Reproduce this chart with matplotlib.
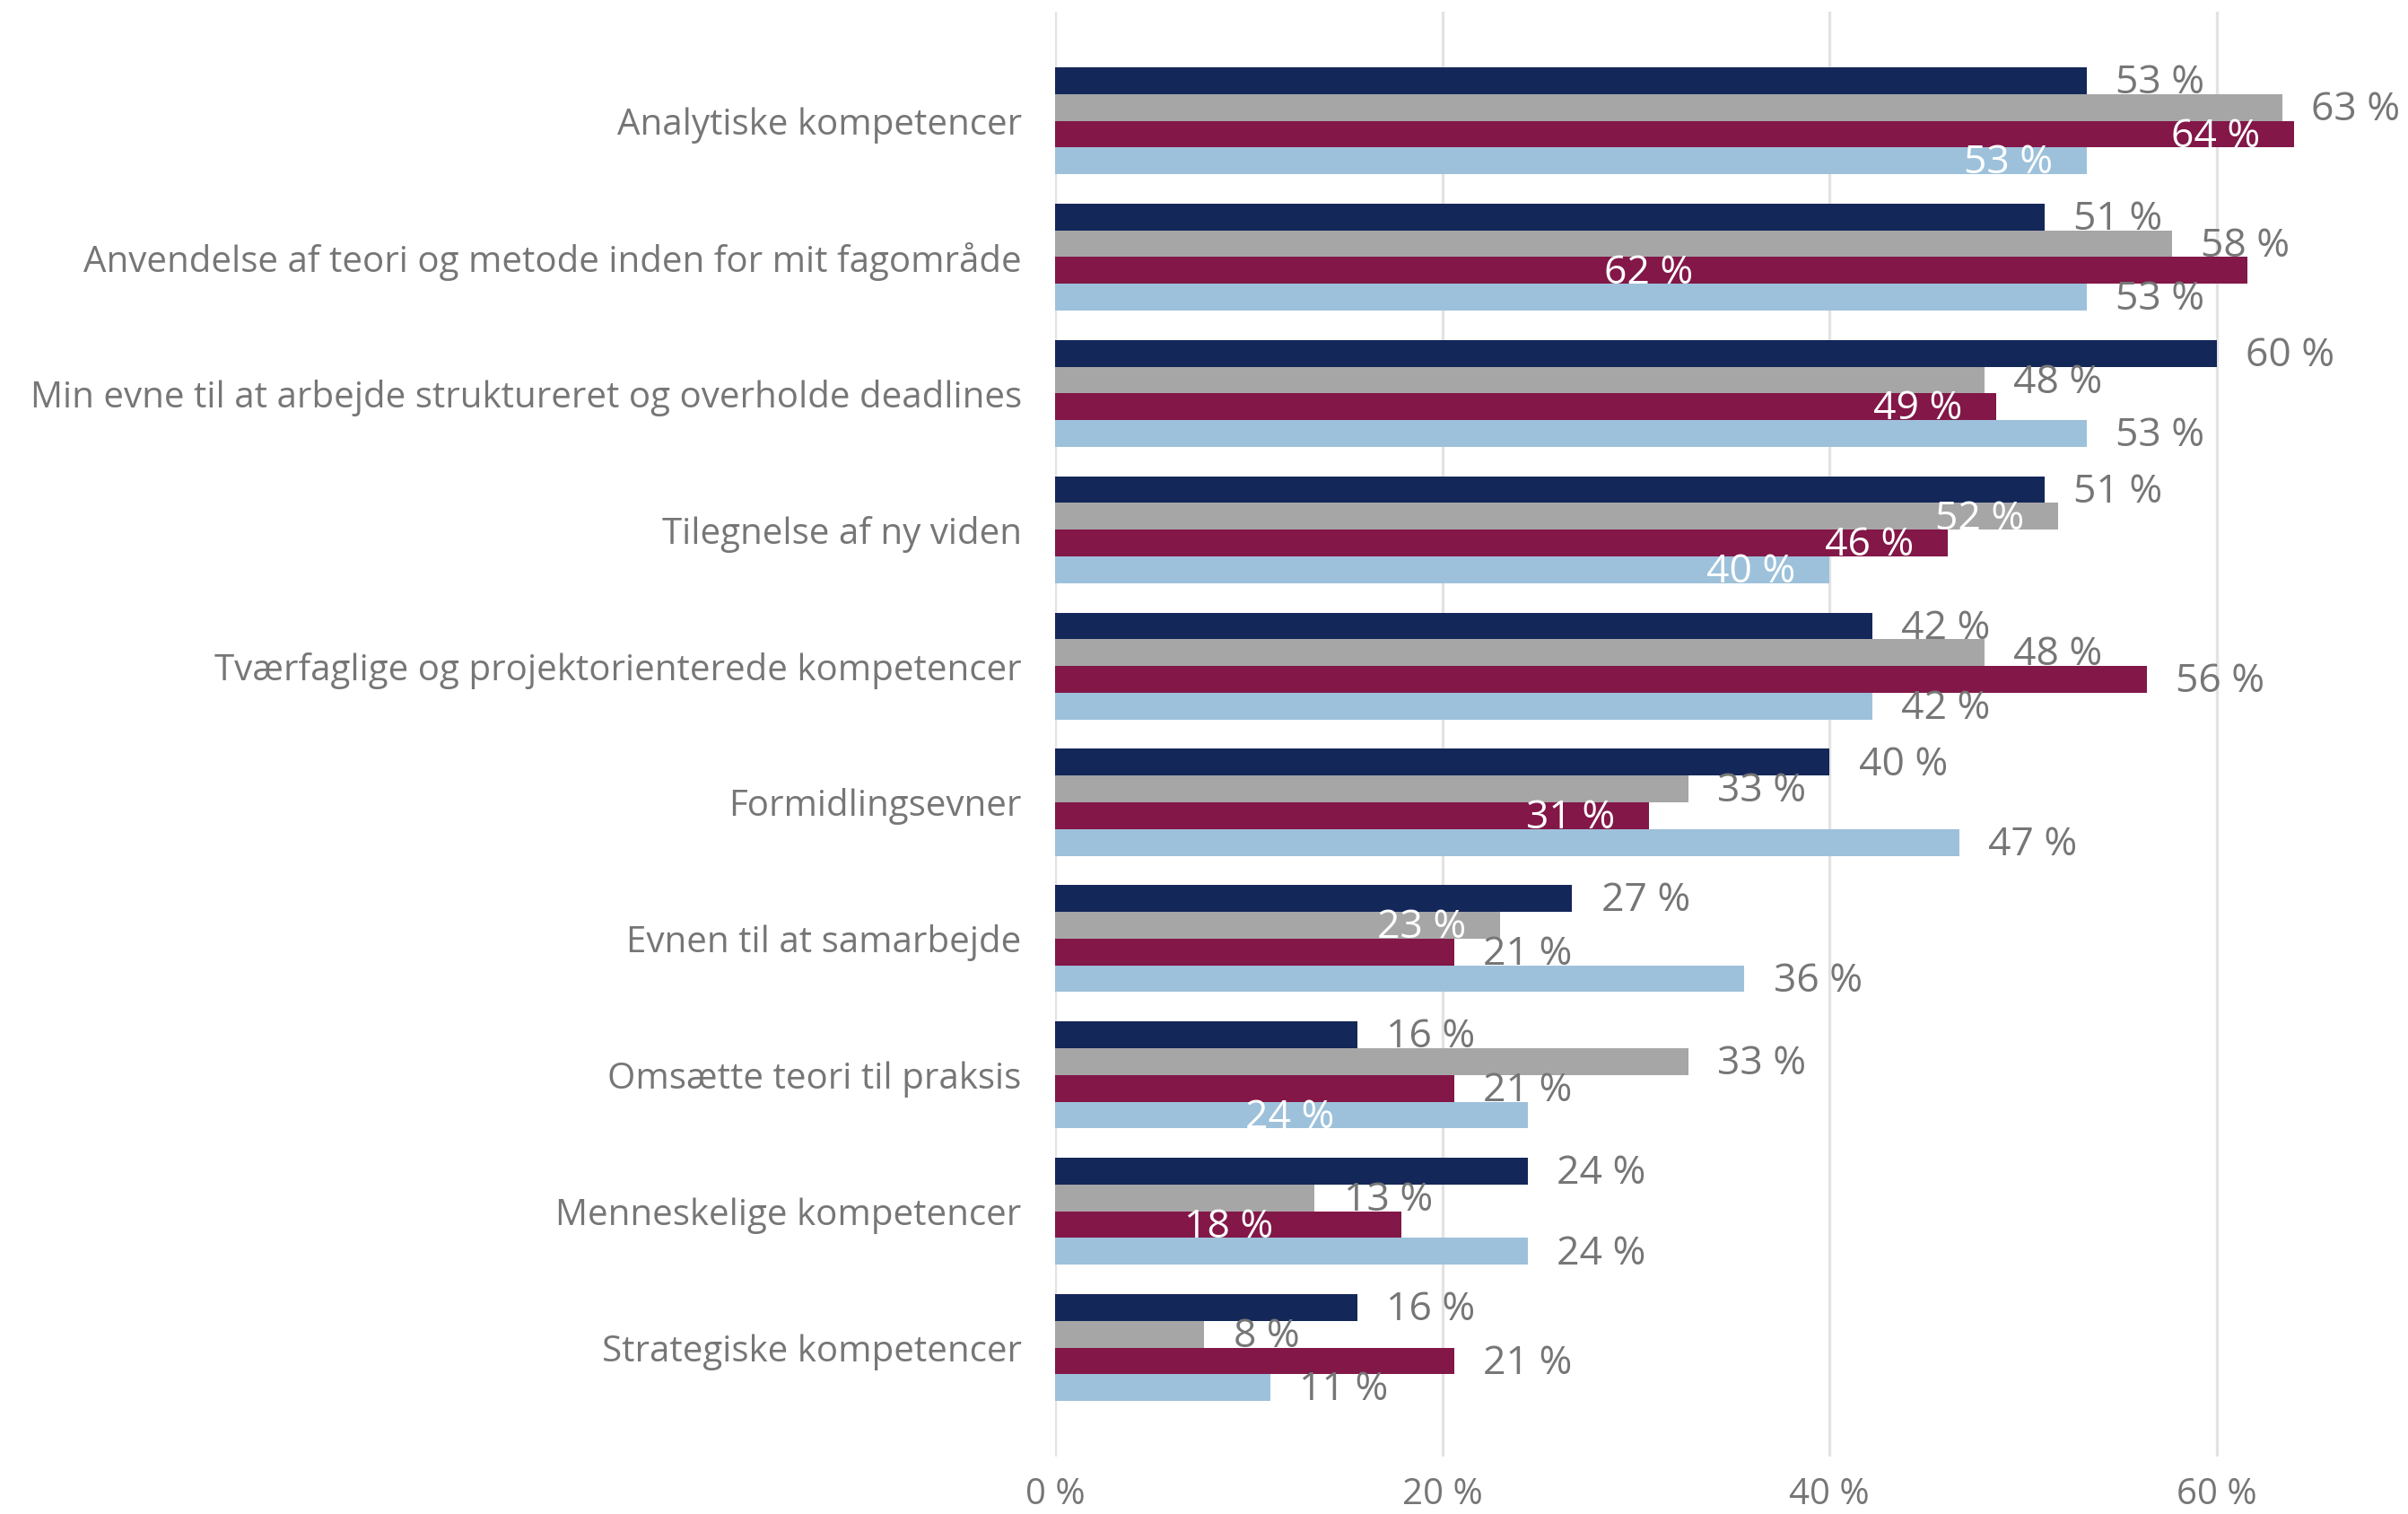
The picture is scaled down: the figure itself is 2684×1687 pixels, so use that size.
import matplotlib
matplotlib.use("Agg")
import matplotlib.pyplot as plt
import numpy as np

plt.rcParams['font.family'] = ['Open Sans', 'DejaVu Sans']

# categories, top to bottom
categories = [
    "Analytiske kompetencer",
    "Anvendelse af teori og metode inden for mit fagområde",
    "Min evne til at arbejde struktureret og overholde deadlines",
    "Tilegnelse af ny viden",
    "Tværfaglige og projektorienterede kompetencer",
    "Formidlingsevner",
    "Evnen til at samarbejde",
    "Omsætte teori til praksis",
    "Menneskelige kompetencer",
    "Strategiske kompetencer",
]

# four series, values in percent
navy = [53.3, 51.1, 60.0, 51.1, 42.2, 40.0, 26.7, 15.6, 24.4, 15.6]
gray = [63.4, 57.7, 48.0, 51.8, 48.0, 32.7, 23.0, 32.7, 13.4, 7.7]
maroon = [64.0, 61.6, 48.6, 46.1, 56.4, 30.7, 20.6, 20.6, 17.9, 20.6]
lightblue = [53.3, 53.3, 53.3, 40.0, 42.2, 46.7, 35.6, 24.4, 24.4, 11.1]

series = [navy, gray, maroon, lightblue]
colors = ['#142759', '#a6a6a6', '#821748', '#9dc1da']

# which labels are drawn in white inside the bar (series index, category index)
white_labels = {(2, 0), (3, 0), (2, 1), (2, 2), (1, 3), (2, 3), (3, 3),
                (2, 5), (1, 6), (3, 7), (2, 8)}
# a few white labels that sit further inside (label left edge, in %)
label_left = {(2, 1): 28.35, (3, 7): 9.8, (2, 8): 6.65}

text_col = '#767676'

fig = plt.figure(figsize=(13.42, 8.435), dpi=200)
ax = fig.add_axes([0.4382, 0.0379, 0.5627, 0.9544])

y = np.arange(len(categories))
bh = 0.196
for i, vals in enumerate(series):
    ypos = y - 1.5 * bh + i * bh
    ax.barh(ypos, vals, height=bh, color=colors[i], edgecolor='none', zorder=2)
    for j, v in enumerate(vals):
        lab = f"{v:.0f} %"
        # nudge text down a little so the digits sit on the bar centre
        ty = ypos[j] + 0.02
        if (i, j) in white_labels:
            x = label_left.get((i, j), v - 6.35)
            ax.text(x, ty, lab, color='white', fontsize=16,
                    ha='left', va='center', zorder=3)
        else:
            ax.text(v + 1.5, ty, lab, color=text_col, fontsize=16,
                    ha='left', va='center', zorder=3)

ax.set_xlim(0, 70)
ax.set_ylim(9.8, -0.8)
ax.set_xticks([0, 20, 40, 60])
ax.set_xticklabels(["0 %", "20 %", "40 %", "60 %"])
ax.set_yticks(y)
ax.set_yticklabels(categories)
ax.tick_params(axis='both', length=0, labelsize=14.5, labelcolor=text_col)
ax.tick_params(axis='y', pad=13.5)
ax.tick_params(axis='x', pad=8)
for s in ax.spines.values():
    s.set_visible(False)
ax.grid(axis='x', color='#e3e3e3', linewidth=1.2, zorder=0)
ax.set_axisbelow(True)

fig.savefig("out.png", dpi=200)
